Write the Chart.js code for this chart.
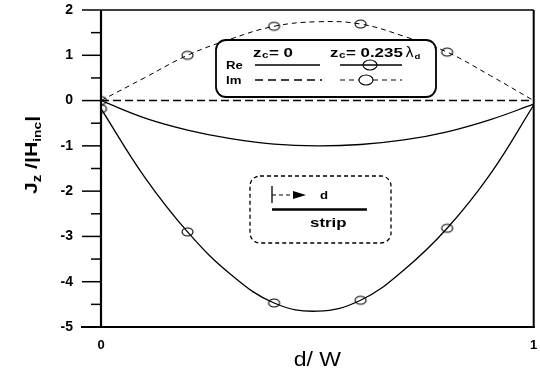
<!DOCTYPE html>
<html><head><meta charset="utf-8">
<script src="https://cdn.jsdelivr.net/npm/chart.js@4.4.1/dist/chart.umd.min.js"></script>
<style>html,body{margin:0;padding:0;background:#fff;}#wrap{width:540px;height:372px;}</style>
</head><body><div id="wrap"><canvas id="c" width="540" height="372"></canvas></div>
<script>
// ---- data ----
const dValues   = [0, 0.1, 0.2, 0.3, 0.4, 0.5, 0.6, 0.7, 0.8, 0.9, 1.0];
const reZc0     = [0, -0.38, -0.65, -0.84, -0.96, -1.0, -0.97, -0.87, -0.69, -0.42, -0.08];
const imZc0     = [0, 0, 0, 0, 0, 0, 0, 0, 0, 0, 0];
const reZc0235  = [-0.18, -1.68, -2.90, -3.84, -4.47, -4.65, -4.41, -3.74, -2.82, -1.62, -0.1];
const imZc0235  = [0, 0.5, 1.0, 1.36, 1.64, 1.74, 1.69, 1.42, 1.07, 0.55, 0];
const markerAt  = [true, false, true, false, true, false, true, false, true, false, false];
const xTickLabels = ['0', '1'];
const yMin = -5, yMax = 2;
const xTitle = 'd/ W';

const FONT = "'Liberation Sans', Arial, Helvetica, sans-serif";

function ellipseMarker(rx, ry) {
  const c = document.createElement('canvas');
  c.width = Math.ceil(rx * 2 + 4); c.height = Math.ceil(ry * 2 + 4);
  const g = c.getContext('2d');
  g.strokeStyle = '#000'; g.lineWidth = 1.1;
  g.beginPath(); g.ellipse(c.width / 2, c.height / 2, rx, ry, 0, 0, Math.PI * 2); g.stroke();
  return c;
}
const marker = ellipseMarker(5.5, 4);

function pts(arr) { return dValues.map((d, i) => ({ x: d, y: arr[i] })); }

function seg(ctx, x1, y1, x2, y2, lw, dash) {
  ctx.save(); ctx.lineWidth = lw; ctx.strokeStyle = '#000';
  ctx.setLineDash(dash || []);
  ctx.beginPath(); ctx.moveTo(x1, y1); ctx.lineTo(x2, y2); ctx.stroke(); ctx.restore();
}
function rrect(ctx, x, y, w, h, r, lw, dash, fill) {
  ctx.save(); ctx.lineWidth = lw; ctx.strokeStyle = '#000'; ctx.setLineDash(dash || []);
  ctx.beginPath(); ctx.roundRect(x, y, w, h, r);
  if (fill) { ctx.fillStyle = fill; ctx.fill(); }
  ctx.stroke(); ctx.restore();
}
// text with horizontal stretch sx; returns advance width
function txt(ctx, s, x, y, size, weight, align, sx) {
  sx = sx || 1;
  ctx.save(); ctx.fillStyle = '#000';
  ctx.font = (weight || 'bold') + ' ' + size + 'px ' + FONT;
  ctx.textBaseline = 'alphabetic'; ctx.textAlign = 'left';
  const w = ctx.measureText(s).width * sx;
  let x0 = x;
  if (align === 'center') x0 = x - w / 2; else if (align === 'right') x0 = x - w;
  ctx.translate(x0, y); ctx.scale(sx, 1);
  ctx.fillText(s, 0, 0);
  ctx.restore(); return w;
}
function ell(ctx, x, y, rx, ry) {
  ctx.save(); ctx.lineWidth = 1.1; ctx.strokeStyle = '#000'; ctx.setLineDash([]);
  ctx.beginPath(); ctx.ellipse(x, y, rx, ry, 0, 0, Math.PI * 2); ctx.stroke(); ctx.restore();
}

const decor = {
  id: 'decor',
  afterDraw(chart) {
    const ctx = chart.ctx, a = chart.chartArea, ys = chart.scales.y;
    // frame
    seg(ctx, a.left, a.top, a.left, a.bottom + 1, 2.2);
    seg(ctx, a.left - 20, a.bottom, a.right + 1, a.bottom, 2.2);
    seg(ctx, a.left, a.top, a.right, a.top, 1.5);
    seg(ctx, a.right, a.top, a.right, a.bottom + 1, 2);
    // y ticks (major + minor)
    for (let v = yMin; v <= yMax + 1e-9; v += 0.5) {
      const y = ys.getPixelForValue(v);
      const major = Math.abs(v - Math.round(v)) < 1e-9;
      seg(ctx, a.left - (major ? 19 : 10), y, a.left, y, 1.5);
    }
    // y title: J_z /|H_inc|
    ctx.save();
    ctx.translate(30, 155); ctx.rotate(-Math.PI / 2);
    const S = 1.25;
    const parts = [['J', 17, 0], ['z', 12, 4], [' /|', 17, 0], ['H', 17, 0], ['inc', 11, 4], ['|', 17, 0]];
    let total = 0;
    parts.forEach(p => { ctx.font = 'bold ' + p[1] + 'px ' + FONT; total += ctx.measureText(p[0]).width * S; });
    let px = -total / 2;
    parts.forEach(p => {
      ctx.font = 'bold ' + p[1] + 'px ' + FONT; ctx.fillStyle = '#000'; ctx.textBaseline = 'alphabetic';
      ctx.save(); ctx.translate(px, 7 + p[2]); ctx.scale(S, 1); ctx.fillText(p[0], 0, 0); ctx.restore();
      px += ctx.measureText(p[0]).width * S;
    });
    ctx.restore();
    // x title
    txt(ctx, xTitle, (a.left + a.right) / 2, 366, 20, 'normal', 'center', 1.15);

    // legend box
    rrect(ctx, 216, 40, 220, 57, 10, 1.8, null, '#fff');
    const L = 1.3;
    let x = 253;
    x += txt(ctx, 'z', x, 57, 13, 'bold', 'left', L);
    x += txt(ctx, 'c', x + 0.5, 58, 9, 'bold', 'left', L) + 1;
    txt(ctx, '= 0', x, 57, 13, 'bold', 'left', L);
    x = 330;
    x += txt(ctx, 'z', x, 57, 13, 'bold', 'left', L);
    x += txt(ctx, 'c', x + 0.5, 58, 9, 'bold', 'left', L) + 1;
    x += txt(ctx, '= 0.235', x, 57, 13, 'bold', 'left', L) + 3;
    x += txt(ctx, '\u03bb', x, 57, 14, 'normal', 'left', 1.1);
    txt(ctx, 'd', x + 1, 59, 8, 'bold', 'left', 1.2);
    txt(ctx, 'Re', 226, 69, 11, 'bold', 'left', 1.2);
    txt(ctx, 'Im', 226, 84, 11, 'bold', 'left', 1.2);
    seg(ctx, 255, 65, 320, 65, 1.6);
    seg(ctx, 340, 65, 402, 65, 1.3);
    ell(ctx, 370, 65, 7, 5);
    seg(ctx, 255, 80, 322, 80, 1.6, [8, 5]);
    seg(ctx, 340, 80, 359, 80, 1.2, [5, 4]);
    seg(ctx, 373, 80, 402, 80, 1.2, [5, 4]);
    ell(ctx, 366, 80, 7, 5);

    // strip box
    rrect(ctx, 250, 176, 141, 67, 10, 1.3, [4, 3]);
    seg(ctx, 272, 186, 272, 203, 1.3);
    seg(ctx, 272, 195, 294, 195, 1.2, [4, 3]);
    ctx.save(); ctx.fillStyle = '#000'; ctx.beginPath();
    ctx.moveTo(293, 191); ctx.lineTo(306, 195); ctx.lineTo(293, 199); ctx.closePath(); ctx.fill(); ctx.restore();
    txt(ctx, 'd', 320, 199, 11, 'bold', 'left', 1.2);
    seg(ctx, 272, 209.5, 367, 209.5, 2.6);
    txt(ctx, 'strip', 310, 227, 13, 'bold', 'left', 1.3);
  }
};

new Chart(document.getElementById('c'), {
  type: 'line',
  data: {
    datasets: [
      { label: 'Re zc=0', data: pts(reZc0), borderColor: '#000', borderWidth: 1.3, pointRadius: 0, tension: 0.4, fill: false },
      { label: 'Im zc=0', data: pts(imZc0), borderColor: '#000', borderWidth: 1.6, borderDash: [8, 4], pointRadius: 0, tension: 0, fill: false },
      { label: 'Re zc=0.235', data: pts(reZc0235), borderColor: '#000', borderWidth: 1.3, tension: 0.4, fill: false,
        pointStyle: marker, pointRadius: markerAt.map(m => m ? 5 : 0) },
      { label: 'Im zc=0.235', data: pts(imZc0235), borderColor: '#000', borderWidth: 1, borderDash: [5, 4], tension: 0.4, fill: false,
        pointStyle: marker, pointRadius: markerAt.map(m => m ? 5 : 0) }
    ]
  },
  options: {
    responsive: false, animation: false, devicePixelRatio: 1,
    layout: { padding: { left: 0, right: 6, top: 10, bottom: 0 } },
    plugins: { legend: { display: false }, tooltip: { enabled: false } },
    elements: { line: { borderCapStyle: 'butt' } },
    scales: {
      x: {
        type: 'linear', min: 0, max: 1,
        ticks: { stepSize: 1, padding: 11, color: '#000', font: { family: FONT, size: 13, weight: 'bold' },
                 callback: (v) => (v === 0 ? xTickLabels[0] : v === 1 ? xTickLabels[1] : ''), maxRotation: 0 },
        grid: { display: false, drawTicks: false }, border: { display: false },
        afterFit: (s) => { s.height = 45; s.paddingLeft = 0; s.paddingRight = 0; }
      },
      y: {
        type: 'linear', min: yMin, max: yMax,
        ticks: { stepSize: 1, padding: 28, color: '#000', font: { family: FONT, size: 14, weight: 'bold' } },
        grid: { display: false, drawTicks: false }, border: { display: false },
        afterFit: (s) => { s.width = 101; s.paddingTop = 0; s.paddingBottom = 0; }
      }
    }
  },
  plugins: [decor]
});
</script></body></html>
